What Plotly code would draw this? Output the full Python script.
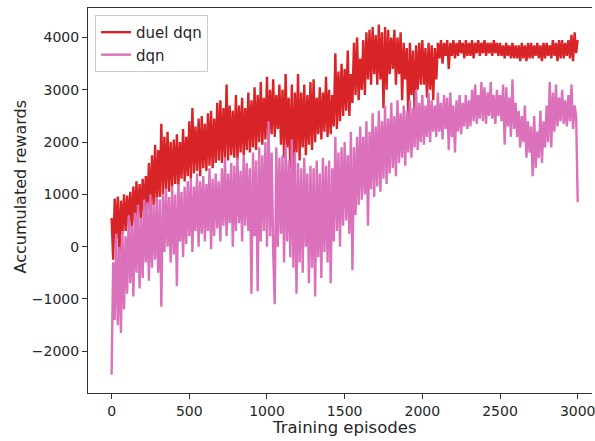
import plotly.graph_objects as go

# Episodes sampled every 10 training episodes (0..3000)
episodes = list(range(0, 3001, 10))

# duel dqn accumulated rewards (one row per 100 episodes)
duel_dqn = [
    550, -250, 920, 150, 960, -150, 880, 250, 1000, 300,
    980, 400, 1050, 350, 1150, 450, 1250, 500, 1200, 550,
    1300, 600, 1350, 700, 1600, 650, 1750, 800, 1950, 850,
    1850, 950, 2350, 1000, 2100, 1100, 2200, 1050, 2000, 1150,
    2050, 1200, 2150, 1150, 2000, 1300, 2250, 1250, 2100, 1350,
    2400, 1300, 2650, 1400, 2300, 1450, 2450, 1350, 2500, 1500,
    2350, 1450, 2550, 1550, 2600, 1500, 2450, 1600, 2750, 1650,
    2800, 1600, 2650, 1700, 3100, 1650, 2700, 1750, 2600, 1700,
    2900, 1650, 2700, 1800, 2850, 1750, 2650, 1850, 2950, 1800,
    2800, 1900, 3050, 1850, 2900, 2000, 3150, 1950, 2850, 2050,
    3250, 2000, 3000, 2150, 3200, 2100, 2900, 2250, 3100, 1950,
    3000, 1700, 3300, 1900, 2850, 1500, 3100, 1300, 2950, 1800,
    3300, 1650, 2950, 1900, 3100, 1750, 2900, 1950, 3150, 1850,
    3200, 2000, 2850, 2150, 3050, 2050, 2950, 2200, 3250, 2100,
    3000, 2150, 2900, 2300, 3700, 2250, 3350, 2400, 3500, 2500,
    3400, 2600, 3750, 2500, 3300, 2750, 3900, 2900, 4000, 2800,
    3600, 3000, 3950, 2900, 4100, 3200, 4150, 3100, 4200, 3300,
    4050, 3100, 4250, 3200, 4100, 2650, 4200, 3000, 4150, 3300,
    4000, 3400, 4150, 3100, 4000, 3300, 4100, 2800, 3900, 3200,
    3800, 2400, 3900, 2900, 3750, 2600, 3850, 3000, 3900, 3100,
    3950, 3100, 3800, 2850, 3900, 3000, 3850, 2800, 3800, 3200,
    3900, 3600, 3950, 3500, 3900, 3650, 3950, 3400, 3900, 3650,
    3950, 3600, 3900, 3650, 3950, 3700, 3900, 3600, 3950, 3650,
    3900, 3650, 3950, 3600, 3900, 3700, 3950, 3650, 3900, 3700,
    3950, 3650, 3900, 3700, 3900, 3650, 3950, 3700, 3900, 3650,
    3900, 3650, 3850, 3600, 3900, 3650, 3850, 3600, 3900, 3600,
    3850, 3600, 3850, 3550, 3900, 3600, 3850, 3550, 3900, 3600,
    3900, 3600, 3850, 3650, 3900, 3600, 3850, 3550, 3900, 3600,
    3900, 3650, 3850, 3600, 3950, 3650, 3900, 3550, 3950, 3600,
    3950, 3600, 3900, 3650, 3950, 3600, 4050, 3550, 4100, 3700,
    3950,
]

# dqn accumulated rewards
dqn = [
    -2450, -300, -1400, 250, -1500, 0, -1650, 300, -1200, 200,
    -900, 600, -700, 400, -950, 650, -500, 800, -800, 550,
    -600, 900, -300, 850, -650, 1000, -400, 800, -250, 950,
    -500, 900, -1150, 1000, -100, 1100, 0, 950, -300, 1150,
    -150, 1000, -750, 1200, 100, 1050, -200, 1150, 50, 1250,
    200, 1300, -100, 1150, 300, 1400, 0, 1250, 250, 1350,
    100, 1200, 300, 1500, -50, 1300, 200, 1400, 350, 1250,
    100, 1500, 400, 1700, 200, 1400, 450, 1600, 0, 1550,
    300, 1700, 450, 1450, 100, 1750, 400, 1600, 300, 1500,
    -900, 1800, 200, 1650, -850, 1900, 100, 1750, 300, 2000,
    0, 2400, 200, 1800, -100, -1100, 1900, 0, 1700, 250,
    1750, -300, 1950, 100, 1650, -200, 2050, -400, 1800, -900,
    1600, -300, 1500, -500, 1700, 0, 1400, -700, 1550, -400,
    1500, -950, 1650, -200, 1400, -600, 1700, -100, 1550, -300,
    1650, -700, 1500, 100, 2100, 300, 1800, 0, 1900, 400,
    2000, 500, 1750, 250, 2200, -450, 1900, 600, 2100, 800,
    2300, 900, 2100, 1000, 2400, 400, 2200, 1100, 2550, 950,
    2300, 1150, 2600, 1050, 2400, 1300, 2700, 1200, 2450, 1400,
    2750, 1500, 2500, 1350, 2800, 1600, 2550, 1700, 2700, 1550,
    2600, 1800, 2800, 1700, 2650, 1900, 3000, 1850, 2750, 2000,
    2900, 1950, 2700, 2100, 2950, 2000, 2800, 2200, 2700, 2100,
    2950, 2200, 2750, 2050, 2900, 2250, 2850, 1850, 2950, 2100,
    2700, 1800, 2800, 2200, 2900, 2150, 2750, 2300, 2900, 2250,
    2800, 2300, 3000, 2400, 3100, 2350, 2900, 2450, 3150, 2400,
    3050, 2350, 2950, 2500, 3150, 2450, 2900, 2350, 3000, 2500,
    2900, 2400, 3100, 1950, 3050, 2300, 2850, 2100, 3200, 2250,
    2750, 2100, 2600, 1900, 2500, 2000, 2700, 1700, 2400, 1800,
    2300, 1350, 2500, 1500, 2200, 1700, 2600, 1600, 2400, 1900,
    2700, 2000, 3150, 1900, 2950, 2200, 3100, 2300, 2850, 2400,
    3000, 2350, 2800, 2300, 2900, 2400, 3100, 2250, 2700, 2500,
    850,
]

x_ticks = [0, 500, 1000, 1500, 2000, 2500, 3000]
y_ticks = [-2000, -1000, 0, 1000, 2000, 3000, 4000]

FONT = "DejaVu Sans"
TXT = "#262626"

fig = go.Figure()
fig.add_trace(go.Scatter(x=episodes, y=duel_dqn, mode="lines", name="duel dqn",
                         line=dict(color="#d92427", width=2.4)))
fig.add_trace(go.Scatter(x=episodes, y=dqn, mode="lines", name="dqn",
                         line=dict(color="#db70bb", width=2.4)))

fig.update_layout(
    width=595, height=441,
    margin=dict(l=88, r=0, t=8, b=48),
    paper_bgcolor="white", plot_bgcolor="white",
    font=dict(family=FONT, size=14, color=TXT),
    showlegend=True,
    legend=dict(x=0.014, y=0.982, xanchor="left", yanchor="top",
                bgcolor="rgba(255,255,255,0.8)", bordercolor="#cccccc", borderwidth=1,
                font=dict(family=FONT, size=15, color=TXT)),
    annotations=[
        dict(text="Training episodes", xref="paper", yref="paper",
             x=0.508, y=-0.09, xanchor="center", yanchor="middle",
             showarrow=False, font=dict(family=FONT, size=16.5, color=TXT)),
        dict(text="Accumulated rewards", xref="paper", yref="paper",
             x=-0.134, y=0.535, xanchor="center", yanchor="middle", textangle=-90,
             showarrow=False, font=dict(family=FONT, size=16, color=TXT)),
    ],
)
fig.update_xaxes(range=[-152, 3092], tickvals=x_ticks, ticks="outside", ticklen=5,
                 tickcolor="#333", showline=True, linecolor="#333", linewidth=1,
                 mirror=True, showgrid=False, zeroline=False,
                 ticklabeloverflow="allow",
                 tickfont=dict(family=FONT, size=14, color=TXT))
fig.update_yaxes(range=[-2798, 4565], tickvals=y_ticks, ticks="outside", ticklen=5,
                 tickcolor="#333", showline=True, linecolor="#333", linewidth=1,
                 mirror=False, showgrid=False, zeroline=False,
                 tickformat="d",
                 tickfont=dict(family=FONT, size=14, color=TXT))

fig.write_html("out.html")
